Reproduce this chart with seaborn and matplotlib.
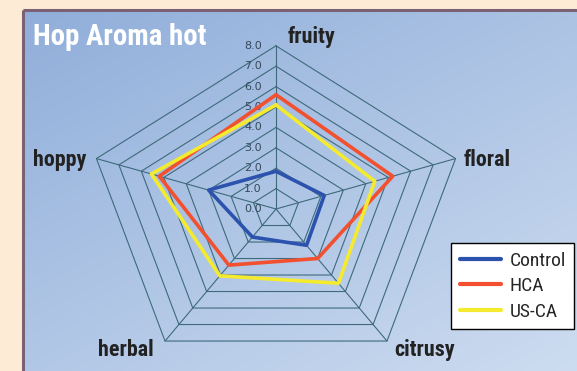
import numpy as np
import pandas as pd
import matplotlib
matplotlib.use("Agg")
import matplotlib.pyplot as plt
import seaborn as sns
from matplotlib.patches import Rectangle
from matplotlib.lines import Line2D
from matplotlib import font_manager as fm

sns.set_theme(style="white")

# pick a condensed font if one is installed
names = {f.name for f in fm.fontManager.ttflist}
cond_stretch = None
narrow = None
for cand in ["Liberation Sans Narrow", "Roboto Condensed", "DejaVu Sans Condensed",
             "Open Sans Condensed", "Arial Narrow", "Noto Sans Condensed"]:
    if cand in names:
        narrow = cand
        break
if narrow is None:
    for f in fm.fontManager.ttflist:
        st = str(f.stretch).lower()
        if f.name in ("DejaVu Sans", "Noto Sans", "Open Sans", "Roboto") and \
                (st in ("condensed", "semi-condensed", "extra-condensed") or
                 (st.isdigit() and int(st) < 500)):
            narrow = f.name
            cond_stretch = "condensed"
            break
if narrow is None:
    narrow = "Roboto" if "Roboto" in names else "DejaVu Sans"
plt.rcParams['font.family'] = [narrow, 'DejaVu Sans']
STRETCH = cond_stretch if cond_stretch else "normal"
SCALE = 1.0 if (narrow != "Roboto" and narrow != "DejaVu Sans") or cond_stretch else 0.9

# ---- data ----
categories = ["fruity", "floral", "citrusy", "herbal", "hoppy"]
control = [1.85, 2.15, 2.2, 1.7, 3.0]
hca = [5.6, 5.2, 3.0, 3.4, 5.2]
usca = [5.1, 4.4, 4.5, 4.05, 5.55]
series_names = ["Control", "HCA", "US-CA"]
series_colors = ["#2B53AE", "#F2502E", "#F4EA2E"]
ring_values = [1, 2, 3, 4, 5, 6, 7, 8]
tick_labels = ["0.0", "1.0", "2.0", "3.0", "4.0", "5.0", "6.0", "7.0", "8.0"]
title = "Hop Aroma hot"

W, H = 577, 371
fig = plt.figure(figsize=(W / 100, H / 100), dpi=100)

# ---- background (pixel coordinates) ----
bg = fig.add_axes([0, 0, 1, 1])
bg.set_xlim(0, W)
bg.set_ylim(H, 0)
bg.axis("off")
bg.add_patch(Rectangle((0, 0), W, H, color="#FDEBD6", zorder=0))
px0, py0 = 23, 10
gx = np.linspace(0, 1, 200)
gy = np.linspace(0, 1, 200)
GX, GY = np.meshgrid(gx, gy)
grad = 0.55 * GY + 0.45 * GX
top = np.array([0x90, 0xAE, 0xDA]) / 255
bot = np.array([0xCD, 0xDC, 0xF0]) / 255
img = top[None, None, :] * (1 - grad[..., None]) + bot[None, None, :] * grad[..., None]
bg.imshow(img, extent=(px0, W, H, py0), aspect="auto", zorder=1)
bg.plot([px0, W], [py0, py0], color="#7A6274", lw=2.2, zorder=2, solid_capstyle="butt")
bg.plot([px0, px0], [py0, H], color="#7A6274", lw=2.2, zorder=2, solid_capstyle="butt")
bg.text(33, 37, title, color="white", fontsize=20.8 * SCALE, fontweight="bold",
        fontstretch=STRETCH, va="center", ha="left", zorder=3)
bg.set_xlim(0, W)
bg.set_ylim(H, 0)

# ---- radar axes (data coordinates, stretched horizontally) ----
cx, cy = 276, 209          # centre in pixels
sx, sy = 23.6, 20.4        # pixels per unit
ax = fig.add_axes([0, 0, 1, 1])
ax.axis("off")
ax.patch.set_alpha(0)

n = len(categories)
ang = np.deg2rad(90 - 72 * np.arange(n))
ang_closed = np.append(ang, ang[0])
grid_col = "#3E6A7C"
for r in ring_values:
    ax.plot(r * np.cos(ang_closed), r * np.sin(ang_closed), color=grid_col, lw=0.8, zorder=2)
rmax = ring_values[-1]
for a in ang:
    ax.plot([0, rmax * np.cos(a)], [0, rmax * np.sin(a)], color=grid_col, lw=0.8, zorder=2)

for i, lab in enumerate(tick_labels):
    ax.text(-0.6, i, lab, ha="right", va="center", fontsize=8,
            color="#34495A", family="DejaVu Sans", zorder=3)

handles = []
for name, vals, col in zip(series_names, [control, hca, usca], series_colors):
    v = np.append(np.array(vals), vals[0])
    df = pd.DataFrame({"x": v * np.cos(ang_closed), "y": v * np.sin(ang_closed)})
    sns.lineplot(data=df, x="x", y="y", sort=False, ax=ax, color=col, lw=2.6,
                 estimator=None, zorder=4)
    handles.append(Line2D([0], [0], color=col, lw=3, label=name))
ax.set_xlim(-cx / sx, (W - cx) / sx)
ax.set_ylim(-(H - cy) / sy, cy / sy)

# category labels (pixel positions)
lab_pos = {"fruity": (312, 37), "floral": (487, 160),
           "citrusy": (425, 350), "herbal": (126, 350),
           "hoppy": (60, 160)}
for c in categories:
    x, y = lab_pos[c]
    bg.text(x, y, c, fontsize=15.8 * SCALE, fontweight="bold", fontstretch=STRETCH,
            color="#222222", ha="center", va="center", zorder=5)

leg = ax.legend(handles=handles, loc="upper left",
                bbox_to_anchor=(451 / W, 1 - 243 / H), bbox_transform=fig.transFigure,
                borderaxespad=0, frameon=True, fancybox=False, framealpha=1,
                edgecolor="black", handlelength=2.1, handletextpad=0.45,
                labelspacing=0.38, borderpad=0.45,
                prop={"size": 14 * SCALE, "stretch": STRETCH})
leg.get_frame().set_linewidth(1.0)
leg.set_zorder(10)

fig.savefig("out.png", dpi=100)
